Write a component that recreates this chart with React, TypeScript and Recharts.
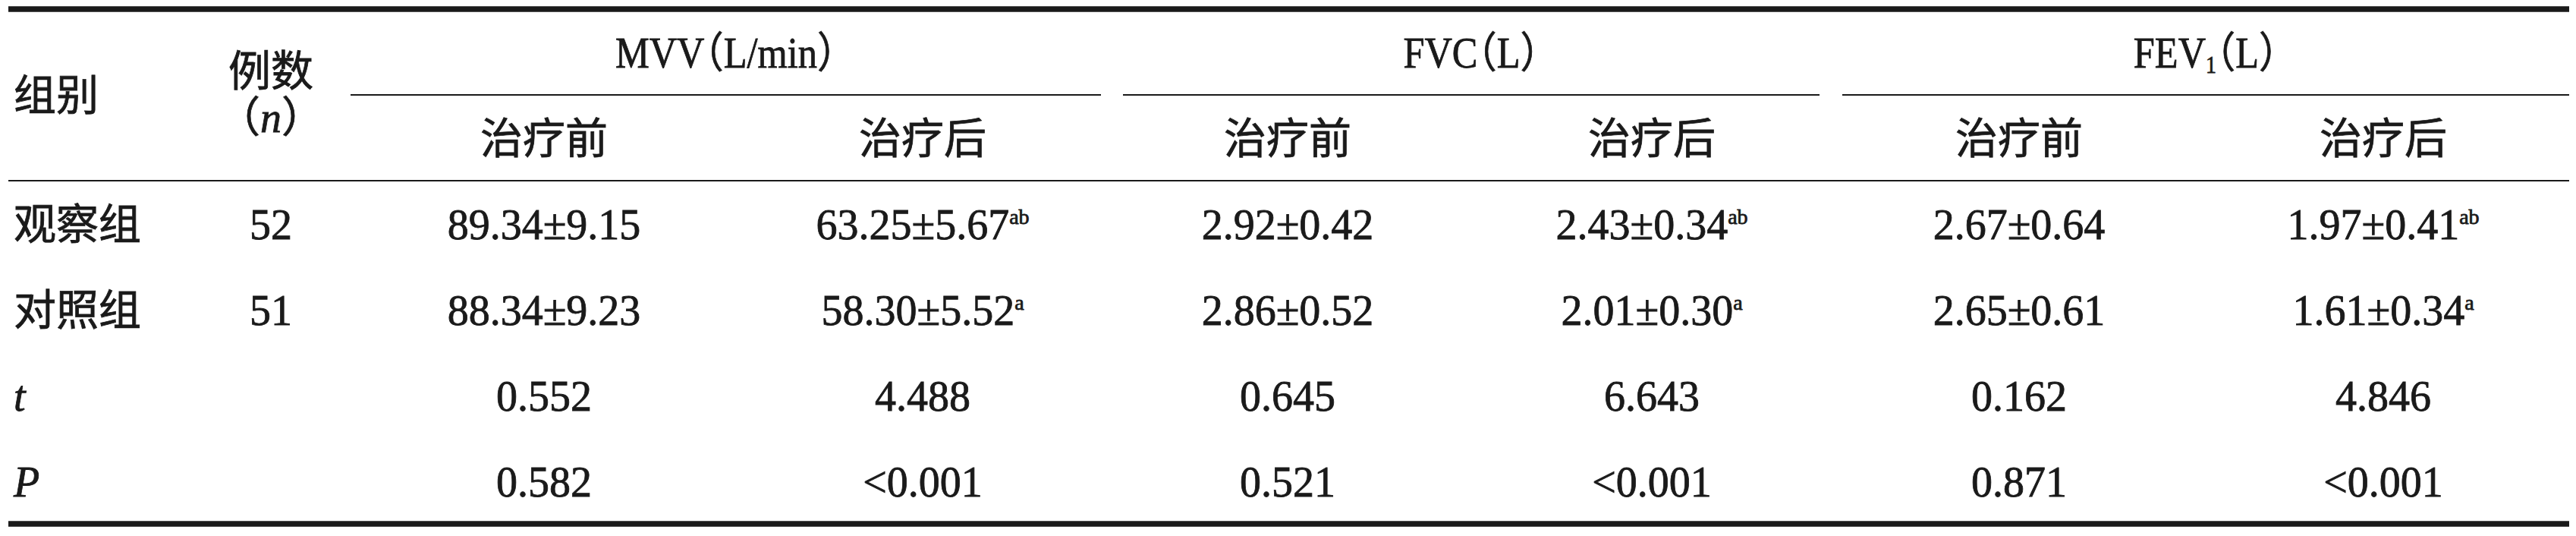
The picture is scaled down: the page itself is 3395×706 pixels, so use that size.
import { ReferenceLine, Scatter, ScatterChart, XAxis, YAxis } from 'recharts'

const W = 3395
const H = 706
const FONT = "'Liberation Serif', 'Noto Sans CJK SC', serif"
const INK = '#1a1a1a'

// table content
const groups = ['观察组', '对照组']
const counts = ['52', '51']
const statLabels = ['t', 'P']
const phases = ['治疗前', '治疗后']
const measureNames = ['MVV', 'FVC', 'FEV']
const measureSubs = ['', '', '1']
const measureUnits = ['（L/min）', '（L）', '（L）']

// one entry per group, columns: MVV before/after, FVC before/after, FEV1 before/after
const observedValues = ['89.34±9.15', '63.25±5.67', '2.92±0.42', '2.43±0.34', '2.67±0.64', '1.97±0.41']
const controlValues = ['88.34±9.23', '58.30±5.52', '2.86±0.52', '2.01±0.30', '2.65±0.61', '1.61±0.34']
const observedMarks = ['', 'ab', '', 'ab', '', 'ab']
const controlMarks = ['', 'a', '', 'a', '', 'a']
const tValues = ['0.552', '4.488', '0.645', '6.643', '0.162', '4.846']
const pValues = ['0.582', '<0.001', '0.521', '<0.001', '0.871', '<0.001']

// layout (x in px, y in row units: 0 = group header ... 5 = P row)
const labelX = 18
const countX = 357
const valueX = [717, 1216, 1697, 2177, 2661, 3141]
const spans = [
  [462, 1451],
  [1480, 2398],
  [2428, 3386],
]
const ruleLeft = 11
const ruleRight = 3386

type Cell = {
  x: number
  y: number
  text: string
  sub?: string
  unit?: string
  sup?: string
  anchor: 'start' | 'middle'
  italic?: boolean
  kind?: 'count' | 'head'
}

const cells: Cell[] = []
cells.push({ x: labelX, y: 0.5, text: '组别', anchor: 'start' })
cells.push({ x: countX, y: 0.5, text: '例数', anchor: 'middle', kind: 'count' })
measureNames.forEach((m, i) => {
  cells.push({
    x: (spans[i][0] + spans[i][1]) / 2,
    y: 0,
    text: m,
    sub: measureSubs[i],
    unit: measureUnits[i],
    anchor: 'middle',
    kind: 'head',
  })
})
valueX.forEach((x, i) => cells.push({ x, y: 1, text: phases[i % 2], anchor: 'middle' }))

const bodyRows = [observedValues, controlValues]
const bodyMarks = [observedMarks, controlMarks]
groups.forEach((g, r) => {
  cells.push({ x: labelX, y: 2 + r, text: g, anchor: 'start' })
  cells.push({ x: countX, y: 2 + r, text: counts[r], anchor: 'middle' })
  valueX.forEach((x, i) =>
    cells.push({ x, y: 2 + r, text: bodyRows[r][i], sup: bodyMarks[r][i], anchor: 'middle' }),
  )
})
;[tValues, pValues].forEach((vals, r) => {
  cells.push({ x: labelX, y: 4 + r, text: statLabels[r], anchor: 'start', italic: true })
  valueX.forEach((x, i) => cells.push({ x, y: 4 + r, text: vals[i], anchor: 'middle' }))
})

const textStyle = {
  fontSize: 56,
  fontFamily: FONT,
  fill: INK,
  stroke: INK,
  strokeWidth: 0.8,
}

function TableText(props: any) {
  const { cx, cy, payload } = props
  const c = payload as Cell
  if (c.kind === 'count') {
    return (
      <text textAnchor="middle" {...textStyle}>
        <tspan x={cx} y={cy - 12}>
          {c.text}
        </tspan>
        <tspan x={cx} y={cy + 49}>
          （<tspan fontStyle="italic">n</tspan>）
        </tspan>
      </text>
    )
  }
  if (c.kind === 'head') {
    // source typeface is narrower than Times, and its brackets are half width
    return (
      <g transform={`translate(${cx},${cy}) scale(0.9,1)`}>
        <text x={0} y={20} textAnchor="middle" style={{ fontFeatureSettings: '"halt"' }} {...textStyle}>
          {c.sub ? (
            <>
              <tspan>{c.text}</tspan>
              <tspan fontSize={31} dy={8}>
                {c.sub}
              </tspan>
              <tspan dy={-8}>{c.unit}</tspan>
            </>
          ) : (
            c.text + c.unit
          )}
        </text>
      </g>
    )
  }
  return (
    <text
      x={cx}
      y={cy + 20}
      textAnchor={c.anchor}
      fontStyle={c.italic ? 'italic' : 'normal'}
      {...textStyle}
    >
      <tspan>{c.text}</tspan>
      {c.sup ? (
        <tspan fontSize={28} dy={-20}>
          {c.sup}
        </tspan>
      ) : null}
    </text>
  )
}

export default function App() {
  return (
    <div style={{ position: 'absolute', left: 0, top: 0, width: W, height: H, background: '#fff' }}>
      <ScatterChart width={W} height={H} margin={{ top: 12, right: 0, bottom: 16, left: 0 }}>
        <XAxis type="number" dataKey="x" domain={[0, W]} hide allowDataOverflow />
        <YAxis type="number" dataKey="y" domain={[-0.5, 5.5]} reversed hide allowDataOverflow />
        <ReferenceLine
          segment={[{ x: ruleLeft, y: -0.5 }, { x: ruleRight, y: -0.5 }]}
          stroke={INK}
          strokeWidth={7.5}
          ifOverflow="visible"
        />
        {spans.map(([a, b]) => (
          <ReferenceLine
            key={a}
            segment={[{ x: a, y: 0.5 }, { x: b, y: 0.5 }]}
            stroke={INK}
            strokeWidth={2}
            ifOverflow="visible"
          />
        ))}
        <ReferenceLine
          segment={[{ x: ruleLeft, y: 1.5 }, { x: ruleRight, y: 1.5 }]}
          stroke={INK}
          strokeWidth={2}
          ifOverflow="visible"
        />
        <ReferenceLine
          segment={[{ x: ruleLeft, y: 5.5 }, { x: ruleRight, y: 5.5 }]}
          stroke={INK}
          strokeWidth={7.5}
          ifOverflow="visible"
        />
        <Scatter data={cells} shape={TableText} isAnimationActive={false} />
      </ScatterChart>
    </div>
  )
}
